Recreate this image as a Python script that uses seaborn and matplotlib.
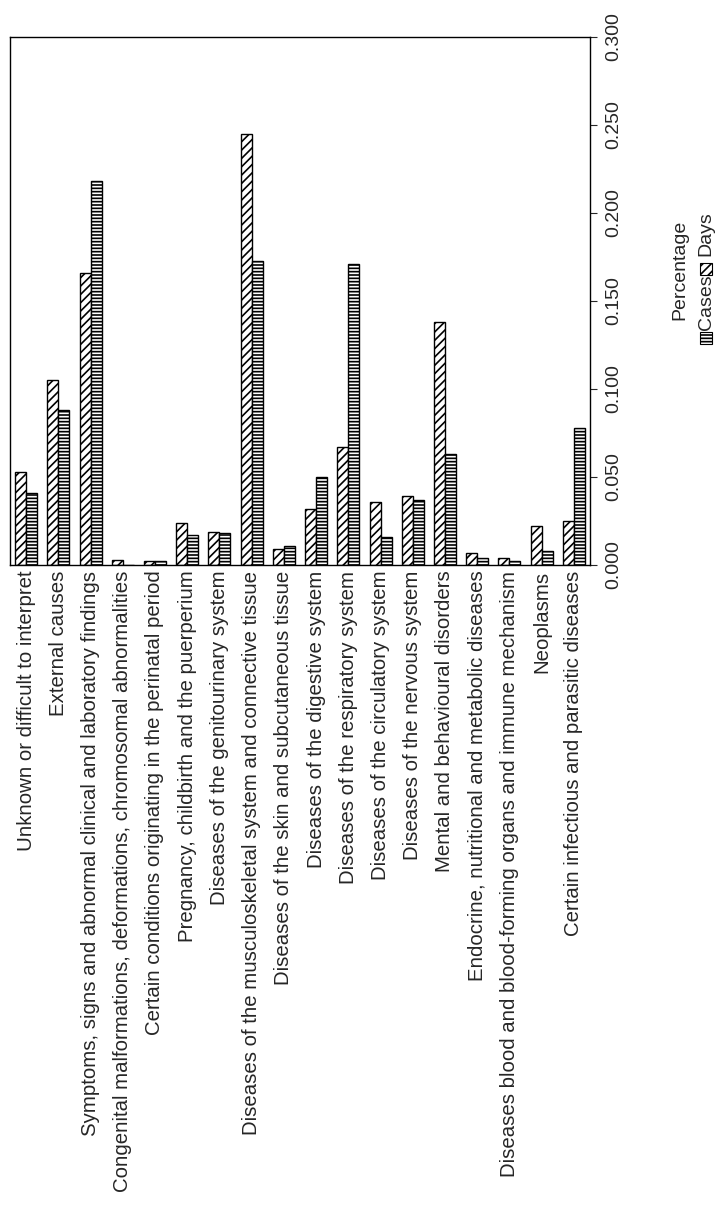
"""Days vs cases percentage by ICD chapter, drawn rotated like the source page."""
import matplotlib
import numpy as np
import pandas as pd
import seaborn as sns

matplotlib.use("Agg")
import matplotlib.pyplot as plt
from matplotlib.patches import Rectangle

CATEGORIES = [
    "Unknown or difficult to interpret",
    "External causes",
    "Symptoms, signs and abnormal clinical and laboratory findings",
    "Congenital malformations, deformations, chromosomal abnormalities",
    "Certain conditions originating in the perinatal period",
    "Pregnancy, childbirth and the puerperium",
    "Diseases of the genitourinary system",
    "Diseases of the musculoskeletal system and connective tissue",
    "Diseases of the skin and subcutaneous tissue",
    "Diseases of the digestive system",
    "Diseases of the respiratory system",
    "Diseases of the circulatory system",
    "Diseases of the nervous system",
    "Mental and behavioural disorders",
    "Endocrine, nutritional and metabolic diseases",
    "Diseases blood and blood-forming organs and immune mechanism",
    "Neoplasms",
    "Certain infectious and parasitic diseases",
]
DAYS = [0.053, 0.105, 0.166, 0.003, 0.002, 0.024, 0.019, 0.245, 0.009,
        0.032, 0.067, 0.036, 0.039, 0.138, 0.007, 0.004, 0.022, 0.025]
CASES = [0.041, 0.088, 0.218, 0.000, 0.002, 0.017, 0.018, 0.173, 0.011,
         0.050, 0.171, 0.016, 0.037, 0.063, 0.004, 0.002, 0.008, 0.078]

df = pd.DataFrame({
    "category": CATEGORIES * 2,
    "value": DAYS + CASES,
    "series": ["Days"] * len(DAYS) + ["Cases"] * len(CASES),
})

sns.set_style("white")
plt.rcParams["font.family"] = ["Liberation Sans", "DejaVu Sans"]
plt.rcParams["hatch.linewidth"] = 1.2

fig = plt.figure(figsize=(7.15, 12.11), dpi=100)
ax = fig.add_axes([10 / 715, 1 - 565 / 1211, 580 / 715, 528 / 1211])
sns.barplot(data=df, x="category", y="value", hue="series",
            hue_order=["Days", "Cases"], order=CATEGORIES,
            color="white", edgecolor="black", linewidth=1.0,
            width=0.68, ax=ax, legend=False, saturation=1)
n = len(CATEGORIES)
for i, p in enumerate(ax.patches[:2 * n]):
    p.set_facecolor("white")
    p.set_hatch("////" if i < n else "-----")

ax.set_ylim(0, 0.3)
ax.set_xlim(-0.5, n - 0.5)
ax.yaxis.tick_right()
ax.set_yticks(np.arange(0, 0.301, 0.05))
ax.set_yticklabels([f"{v:.3f}" for v in np.arange(0, 0.301, 0.05)],
                   rotation=90, va="center", fontsize=14)
ax.tick_params(axis="y", direction="out", length=5, right=True, pad=6)
ax.tick_params(axis="x", length=0, pad=4)
ax.set_xticks(range(n))
ax.set_xticklabels(CATEGORIES, rotation=90, fontsize=14.7, ha="center", va="top")
ax.set_xlabel("")
ax.set_ylabel("")
for s in ax.spines.values():
    s.set_color("black")
    s.set_linewidth(1.0)

fig.text(680 / 715, 1 - 270 / 1211, "Percentage", rotation=90,
         ha="center", va="center", fontsize=14)
# rotated legend, reading bottom to top: [box] Cases [box] Days
for txt, hatch, box_y, txt_y in [("Cases", "-----", 338, 302), ("Days", "////", 269, 234)]:
    fig.patches.append(Rectangle((700 / 715, 1 - (box_y + 6) / 1211), 12 / 715, 12 / 1211,
                                 transform=fig.transFigure, facecolor="white",
                                 edgecolor="black", hatch=hatch, lw=0.8))
    fig.text(706 / 715, 1 - txt_y / 1211, txt, rotation=90,
             ha="center", va="center", fontsize=14)

fig.savefig("out.png", dpi=100)
